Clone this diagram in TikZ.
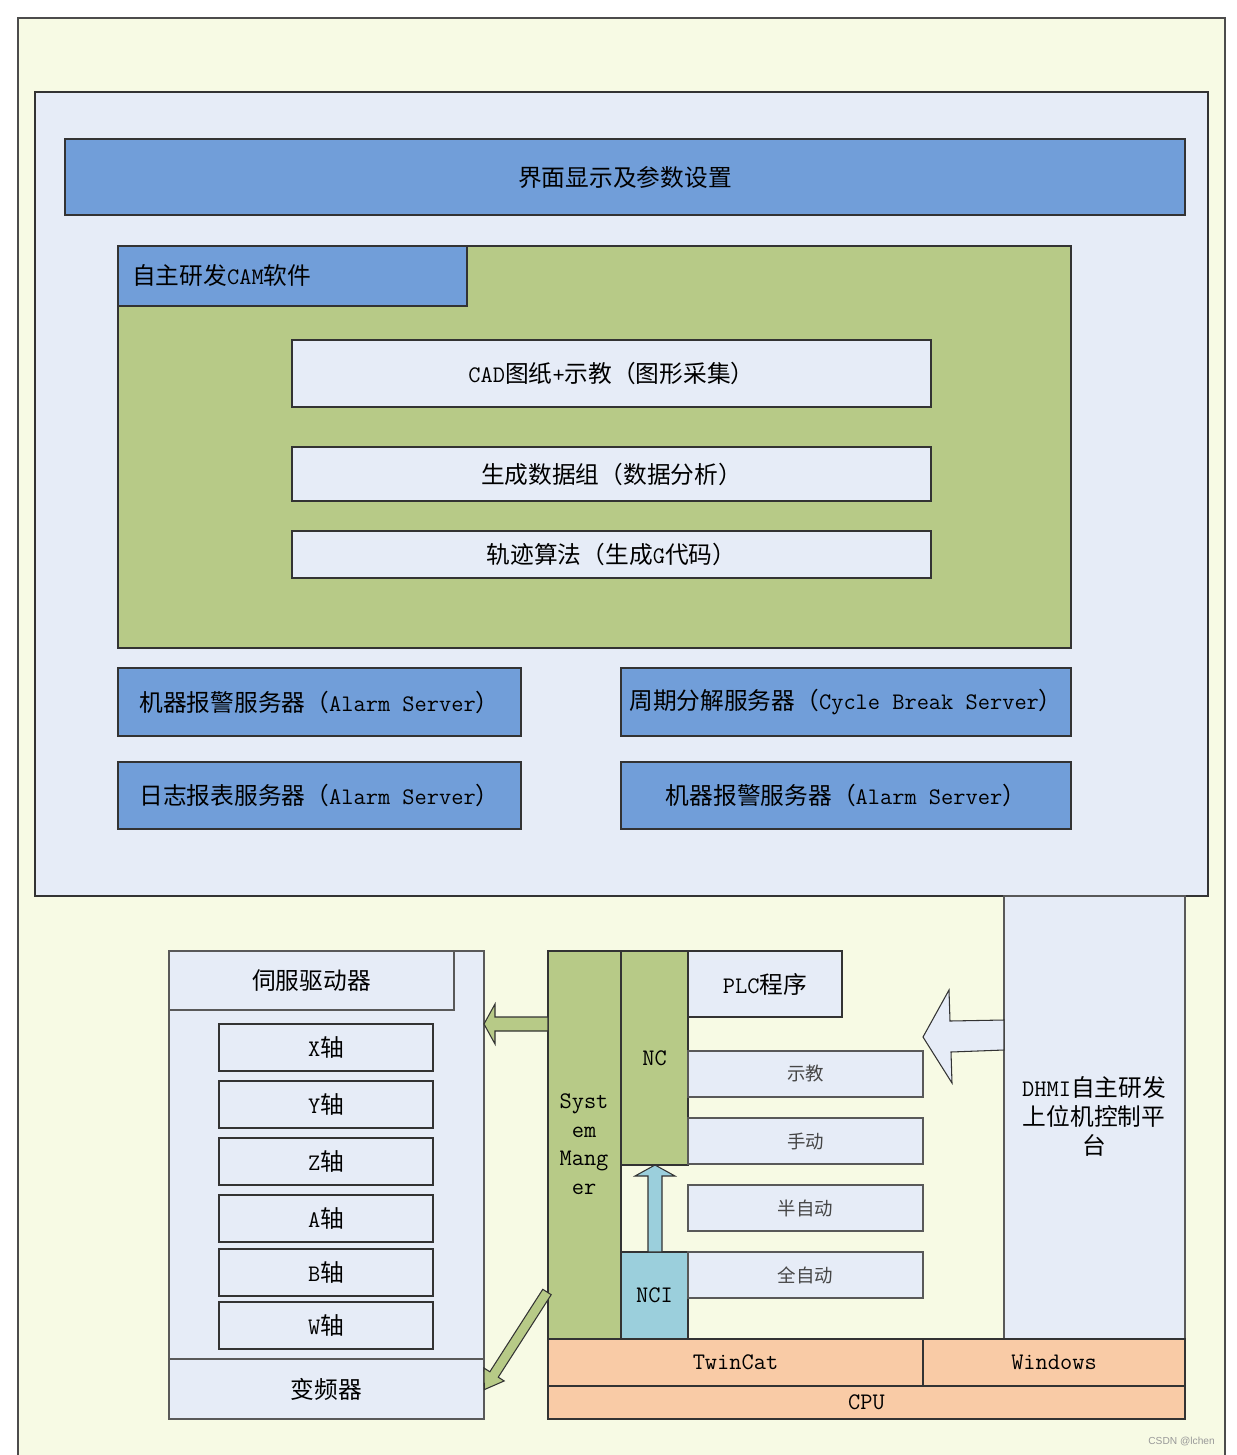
\documentclass[tikz,border=0pt]{standalone}
\usepackage{fontspec}
\newfontfamily\cjk{Noto Sans CJK SC}
\newfontfamily\wmfont{Liberation Sans}
\newcommand\C[1]{{\cjk #1}}
\definecolor{bgyellow}{HTML}{F7FAE4}
\definecolor{paleblue}{HTML}{E6ECF7}
\definecolor{midblue}{HTML}{719ED9}
\definecolor{leaf}{HTML}{B7CA87}
\definecolor{peach}{HTML}{F9CBA6}
\definecolor{cyanb}{HTML}{9BCFDC}
\definecolor{edge}{HTML}{333333}
\newcommand\boxn[7]{\node[#1, minimum width={(#5-#3)*0.02cm}, minimum height={(#6-#4)*0.02cm}, inner sep=0pt] (#2) at ({(#3+#5)/2},{(#4+#6)/2}) {#7};}
\begin{document}
\begin{tikzpicture}[x=0.02cm,y=-0.02cm,
  every node/.style={font=\fontsize{13.5}{16}\selectfont\ttfamily},
  frame/.style={draw=edge, line width=0.6pt},
  bluebar/.style={frame, fill=midblue},
  palebox/.style={frame, fill=paleblue},
  greenbox/.style={frame, fill=leaf},
  peachbox/.style={frame, fill=peach},
  cyanbox/.style={frame, fill=cyanb},
  greybox/.style={draw=gray!70!black, line width=0.6pt, fill=paleblue},
  smalltext/.style={font=\fontsize{10.5}{12}\selectfont\cjk, text=gray!55!black},
  fatarrow/.style={line width=0.6pt, draw=edge}]
\useasboundingbox (0,0) rectangle (1237,1455);
\fill[white] (0,0) rectangle (1237,1455);
\begin{scope}
\clip (0,0) rectangle (1237,1455);
\draw[fill=bgyellow, draw=gray!60!black, line width=0.6pt] (18,18) rectangle (1225,1470);
\end{scope}
% upper panel
\boxn{palebox}{upper}{35}{92}{1208}{896}{}
\boxn{bluebar}{title}{65}{139}{1185}{215}{\C{界面显示及参数设置}}
\boxn{greenbox}{cam}{118}{246}{1071}{648}{}
\boxn{bluebar}{camlabel}{118}{246}{467}{306}{}
\node[anchor=west] (camtext) at (126,275) {\C{自主研发}CAM\C{软件}};
\boxn{palebox}{cad}{292}{340}{931}{407}{CAD\C{图纸}+\C{示教（图形采集）}}
\boxn{palebox}{data}{292}{447}{931}{501}{\C{生成数据组（数据分析）}}
\boxn{palebox}{traj}{292}{531}{931}{578}{\C{轨迹算法（生成}G\C{代码）}}
\boxn{bluebar}{alarm1}{118}{668}{521}{736}{\C{机器报警服务器（}Alarm Server\C{）}}
\boxn{bluebar}{cycle}{621}{668}{1071}{736}{\C{周期分解服务器（}Cycle Break Server\C{）}}
\boxn{bluebar}{log}{118}{762}{521}{829}{\C{日志报表服务器（}Alarm Server\C{）}}
\boxn{bluebar}{alarm2}{621}{762}{1071}{829}{\C{机器报警服务器（}Alarm Server\C{）}}
% DHMI column
\boxn{greybox}{dhmi}{1004}{896}{1185}{1339}{}
\node[align=center, font=\fontsize{13.5}{16.5}\selectfont\ttfamily] (dhmitext) at (1094,1116) {DHMI\C{自主研发}\\\C{上位机控制平}\\\C{台}};
% servo panel
\boxn{greybox}{servo}{169}{951}{484}{1419}{}
\boxn{greybox}{servohead}{169}{951}{454}{1010}{\C{伺服驱动器}}
\boxn{palebox}{xax}{219}{1024}{433}{1071}{X\C{轴}}
\boxn{palebox}{yax}{219}{1081}{433}{1128}{Y\C{轴}}
\boxn{palebox}{zax}{219}{1138}{433}{1185}{Z\C{轴}}
\boxn{palebox}{aax}{219}{1195}{433}{1242}{A\C{轴}}
\boxn{palebox}{bax}{219}{1249}{433}{1296}{B\C{轴}}
\boxn{palebox}{wax}{219}{1302}{433}{1349}{W\C{轴}}
\boxn{greybox}{vfd}{169}{1359}{484}{1419}{\C{变频器}}
% TwinCat stack
\boxn{greenbox}{sysman}{548}{951}{621}{1339}{}
\node[align=center, font=\fontsize{13.5}{16.2}\selectfont\ttfamily] (systext) at (584,1144) {Syst\\em\\Mang\\er};
\boxn{greenbox}{nc}{621}{951}{688}{1165}{NC}
\boxn{cyanbox}{nci}{621}{1252}{688}{1339}{NCI}
\draw[frame] (sysman.north east) -- (sysman.south east);
\boxn{palebox}{plc}{688}{951}{842}{1017}{PLC\C{程序}}
\boxn{greybox}{teach}{688}{1051}{923}{1097}{}
\node[smalltext] at (teach) {示教};
\boxn{greybox}{manual}{688}{1118}{923}{1164}{}
\node[smalltext] at (manual) {手动};
\boxn{greybox}{semi}{688}{1185}{923}{1231}{}
\node[smalltext] at (semi) {半自动};
\boxn{greybox}{full}{688}{1252}{923}{1298}{}
\node[smalltext] at (full) {全自动};
\boxn{peachbox}{twincat}{548}{1339}{923}{1386}{TwinCat}
\boxn{peachbox}{windows}{923}{1339}{1185}{1386}{Windows}
\boxn{peachbox}{cpu}{548}{1386}{1185}{1419}{CPU}
% block arrows
\draw[fatarrow, fill=paleblue] (1004,1020) -- (950,1021) -- (949,990) -- (923,1037) -- (952,1083) -- (951,1052) -- (1004,1050) -- cycle;
\draw[fatarrow, fill=leaf] (548,1017) -- (495,1017) -- (495,1004) -- (484,1024) -- (495,1044) -- (495,1031) -- (548,1031) -- cycle;
\draw[fatarrow, fill=cyanb] (648,1252) -- (648,1176) -- (635,1176) -- (655,1165) -- (675,1176) -- (662,1176) -- (662,1252) -- cycle;
\begin{scope}[shift={(547,1292)}, rotate=237.3]
\draw[fatarrow, fill=leaf] (0,5) -- (98,5) -- (98,12) -- (116,0) -- (98,-12) -- (98,-5) -- (0,-5) -- cycle;
\end{scope}
% watermark
\node[anchor=east, font=\fontsize{5.8}{7}\selectfont\wmfont, text=gray!80] (wm) at (1221,1441) {CSDN @lchen};
\end{tikzpicture}
\end{document}
